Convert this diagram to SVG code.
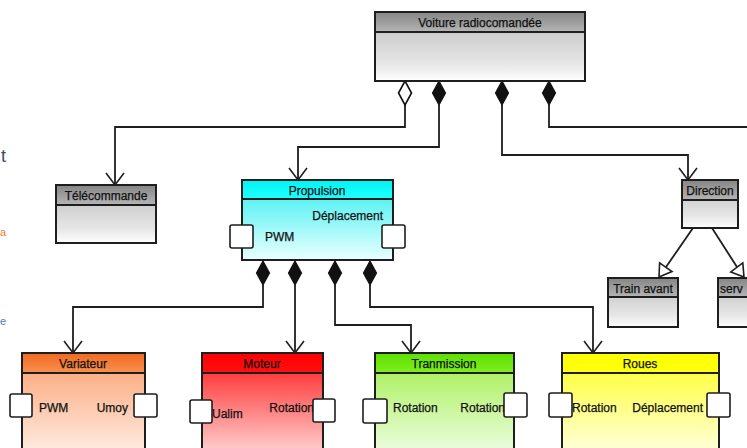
<svg xmlns="http://www.w3.org/2000/svg" xmlns:xlink="http://www.w3.org/1999/xlink" width="747" height="448" viewBox="0 0 747 448">
<style>
.box{stroke:#1e1e1e;stroke-width:2}
.port{fill:#fff;stroke:#1e1e1e;stroke-width:1.6}
.t{font-family:"Liberation Sans",Arial,sans-serif;font-size:12px;fill:#111;stroke:#111;stroke-width:0.25}
.c{text-anchor:middle}
.r{text-anchor:end}
.ln{fill:none;stroke:#1e1e1e;stroke-width:1.8}
.df{fill:#111;stroke:#111;stroke-width:1.2}
.do{fill:#fff;stroke:#111;stroke-width:1.6}
.tri{fill:#fff;stroke:#1e1e1e;stroke-width:1.6}
</style>
<defs>
<marker id="open" markerUnits="userSpaceOnUse" viewBox="0 0 12 20" refX="12" refY="10" markerWidth="12" markerHeight="20" orient="auto" overflow="visible">
<path d="M0,1 L12,10 L0,19" fill="none" stroke="#1e1e1e" stroke-width="1.6"/>
</marker>
<path id="dia" d="M0,0 L6.5,12 L0,24 L-6.5,12 Z"/>
<linearGradient id="gH" x1="0" y1="0" x2="0" y2="1"><stop offset="0" stop-color="#858585"/><stop offset="1" stop-color="#b5b5b5"/></linearGradient>
<linearGradient id="gB" x1="0" y1="0" x2="0" y2="1"><stop offset="0" stop-color="#bcbcbc"/><stop offset="0.75" stop-color="#e6e6e6"/><stop offset="1" stop-color="#ffffff"/></linearGradient>
<linearGradient id="cyH" x1="0" y1="0" x2="0" y2="1"><stop offset="0" stop-color="#00f4f4"/><stop offset="1" stop-color="#20ffff"/></linearGradient>
<linearGradient id="cyB" x1="0" y1="0" x2="0" y2="1"><stop offset="0" stop-color="#30eef0"/><stop offset="1" stop-color="#eaffff"/></linearGradient>
<linearGradient id="orH" x1="0" y1="0" x2="0" y2="1"><stop offset="0" stop-color="#f06a20"/><stop offset="1" stop-color="#f89050"/></linearGradient>
<linearGradient id="orB" x1="0" y1="0" x2="0" y2="1"><stop offset="0" stop-color="#fba070"/><stop offset="1" stop-color="#fff4ee"/></linearGradient>
<linearGradient id="rdH" x1="0" y1="0" x2="0" y2="1"><stop offset="0" stop-color="#ff0000"/><stop offset="1" stop-color="#ff1010"/></linearGradient>
<linearGradient id="rdB" x1="0" y1="0" x2="0" y2="1"><stop offset="0" stop-color="#ff1818"/><stop offset="1" stop-color="#ffe4e4"/></linearGradient>
<linearGradient id="grH" x1="0" y1="0" x2="0" y2="1"><stop offset="0" stop-color="#5ce000"/><stop offset="1" stop-color="#80ee20"/></linearGradient>
<linearGradient id="grB" x1="0" y1="0" x2="0" y2="1"><stop offset="0" stop-color="#a0ee48"/><stop offset="1" stop-color="#f4fff0"/></linearGradient>
<linearGradient id="ylH" x1="0" y1="0" x2="0" y2="1"><stop offset="0" stop-color="#ffff00"/><stop offset="1" stop-color="#ffff10"/></linearGradient>
<linearGradient id="ylB" x1="0" y1="0" x2="0" y2="1"><stop offset="0" stop-color="#ffff20"/><stop offset="1" stop-color="#fffff0"/></linearGradient>
</defs>
<rect x="0" y="0" width="747" height="448" fill="#fff"/>

<g id="edge-fragments" font-family="'Liberation Sans',Arial,sans-serif">
<text x="1" y="162" font-size="18" fill="#3c4a66">t</text>
<text x="0" y="236" font-size="11" fill="#f07830">a</text>
<text x="0" y="325" font-size="11" fill="#4a7cc0">e</text>
</g>

<g id="connectors">
<path class="ln" d="M405,105 V127 H115 V185" marker-end="url(#open)"/>
<path class="ln" d="M439,105 V147 H298 V180" marker-end="url(#open)"/>
<path class="ln" d="M502,105 V155 H688 V180" marker-end="url(#open)"/>
<path class="ln" d="M549,105 V127 H750"/>
<path class="ln" d="M263,285 V307 H73 V353" marker-end="url(#open)"/>
<path class="ln" d="M295,285 V353" marker-end="url(#open)"/>
<path class="ln" d="M335,285 V325 H411 V353" marker-end="url(#open)"/>
<path class="ln" d="M370,285 V307 H593 V353" marker-end="url(#open)"/>
<path class="ln" d="M693,228 L666,267"/>
<path class="ln" d="M712,228 L737,267"/>
<polygon class="tri" points="659.6,262.9 672,271.5 659,277"/>
<polygon class="tri" points="742.8,262.9 730.8,271.9 744,277"/>
<use xlink:href="#dia" href="#dia" class="do" x="405" y="81"/>
<use xlink:href="#dia" href="#dia" class="df" x="439" y="81"/>
<use xlink:href="#dia" href="#dia" class="df" x="502" y="81"/>
<use xlink:href="#dia" href="#dia" class="df" x="549" y="81"/>
<use xlink:href="#dia" href="#dia" class="df" x="263" y="261"/>
<use xlink:href="#dia" href="#dia" class="df" x="295" y="261"/>
<use xlink:href="#dia" href="#dia" class="df" x="335" y="261"/>
<use xlink:href="#dia" href="#dia" class="df" x="370" y="261"/>
</g>

<g id="voiture">
<rect class="box" x="375" y="12" width="210" height="69" fill="url(#gB)"/>
<rect class="box" x="375" y="12" width="210" height="20" fill="url(#gH)"/>
<text class="t c" x="480" y="27">Voiture radiocomandée</text>
</g>

<g id="telecommande">
<rect class="box" x="56" y="185" width="100" height="58" fill="url(#gB)"/>
<rect class="box" x="56" y="185" width="100" height="20" fill="url(#gH)"/>
<text class="t c" x="106" y="200">Télécommande</text>
</g>

<g id="propulsion">
<rect class="box" x="242" y="180" width="151" height="80" fill="url(#cyB)"/>
<rect class="box" x="242" y="180" width="151" height="19" fill="url(#cyH)"/>
<text class="t c" x="317" y="195">Propulsion</text>
<text class="t r" x="383" y="220">Déplacement</text>
<text class="t" x="265" y="241">PWM</text>
<rect class="port" x="230" y="225" width="23" height="23" rx="2"/>
<rect class="port" x="382" y="225" width="23" height="23" rx="2"/>
</g>

<g id="direction">
<rect class="box" x="682" y="180" width="56" height="48" fill="url(#gB)"/>
<rect class="box" x="682" y="180" width="56" height="20" fill="url(#gH)"/>
<text class="t c" x="710" y="195">Direction</text>
</g>

<g id="train-avant">
<rect class="box" x="608" y="278" width="70" height="49" fill="url(#gB)"/>
<rect class="box" x="608" y="278" width="70" height="19" fill="url(#gH)"/>
<text class="t c" x="643" y="293">Train avant</text>
</g>

<g id="servo">
<rect class="box" x="718" y="278" width="40" height="49" fill="url(#gB)"/>
<rect class="box" x="718" y="278" width="40" height="19" fill="url(#gH)"/>
<text class="t" x="720" y="293">serv</text>
</g>

<g id="variateur">
<rect class="box" x="22" y="353" width="123" height="110" fill="url(#orB)"/>
<rect class="box" x="22" y="353" width="123" height="20" fill="url(#orH)"/>
<text class="t c" x="83" y="368">Variateur</text>
<text class="t" x="39" y="412">PWM</text>
<text class="t r" x="128" y="412">Umoy</text>
<rect class="port" x="10" y="394" width="22" height="23" rx="2"/>
<rect class="port" x="134" y="394" width="23" height="23" rx="2"/>
</g>

<g id="moteur">
<rect class="box" x="202" y="353" width="121" height="110" fill="url(#rdB)"/>
<rect class="box" x="202" y="353" width="121" height="20" fill="url(#rdH)"/>
<text class="t c" x="262" y="368">Moteur</text>
<text class="t" x="212" y="418">Ualim</text>
<text class="t r" x="314" y="412">Rotation</text>
<rect class="port" x="190" y="400" width="22" height="23" rx="2"/>
<rect class="port" x="313" y="399" width="22" height="23" rx="2"/>
</g>

<g id="transmission">
<rect class="box" x="375" y="353" width="139" height="110" fill="url(#grB)"/>
<rect class="box" x="375" y="353" width="139" height="20" fill="url(#grH)"/>
<text class="t c" x="444" y="368">Tranmission</text>
<text class="t" x="393" y="412">Rotation</text>
<text class="t r" x="505" y="412">Rotation</text>
<rect class="port" x="363" y="399" width="24" height="24" rx="2"/>
<rect class="port" x="504" y="393" width="23" height="24" rx="2"/>
</g>

<g id="roues">
<rect class="box" x="562" y="353" width="157" height="110" fill="url(#ylB)"/>
<rect class="box" x="562" y="353" width="157" height="20" fill="url(#ylH)"/>
<text class="t c" x="640" y="368">Roues</text>
<text class="t" x="572" y="412">Rotation</text>
<text class="t r" x="703" y="412">Déplacement</text>
<rect class="port" x="549" y="393" width="23" height="24" rx="2"/>
<rect class="port" x="707" y="393" width="23" height="24" rx="2"/>
</g>
</svg>
